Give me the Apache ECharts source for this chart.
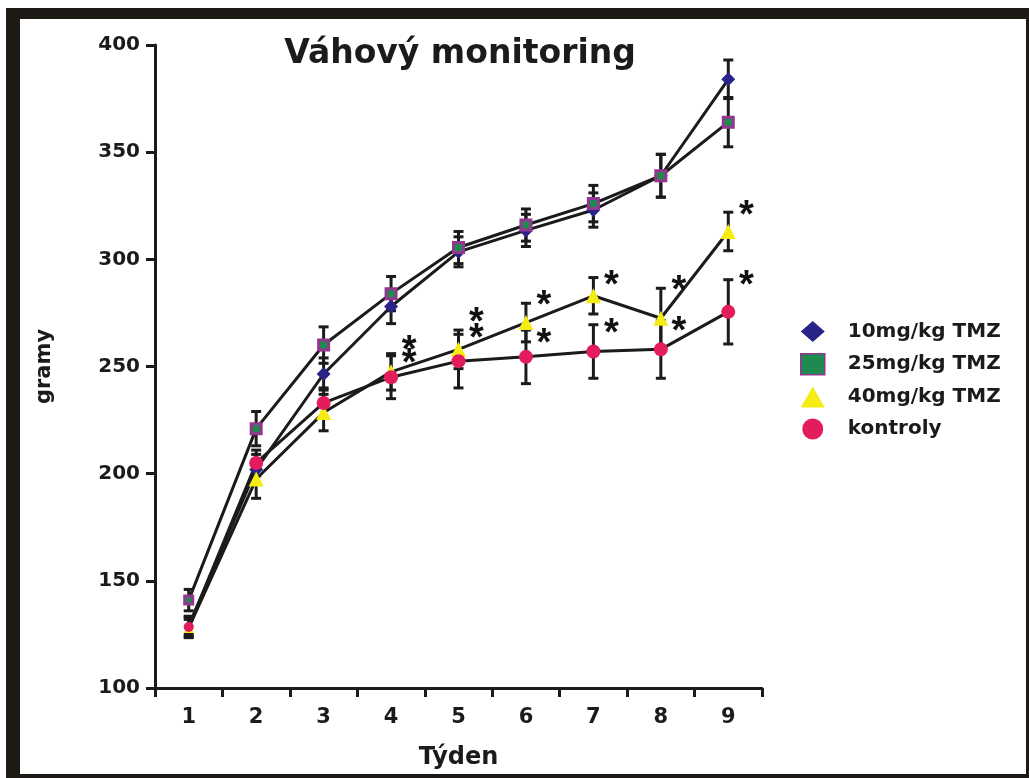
<!DOCTYPE html>
<html>
<head>
<meta charset="utf-8">
<script src="https://cdn.jsdelivr.net/npm/echarts@6/dist/echarts.min.js"></script>
<style>
  html, body { margin: 0; padding: 0; background: #ffffff; }
  #frame { position: absolute; left: 6px; top: 8px; width: 1023px; height: 770px; background: #1d1a16; }
  #inner { position: absolute; left: 20px; top: 19px; width: 1006px; height: 755px; background: #ffffff; }
  #chart { position: absolute; left: 0; top: 0; width: 1029px; height: 778px; }
</style>
</head>
<body>
<div id="frame"></div>
<div id="inner"></div>
<div id="chart"></div>
<script>
// ---- data ----
const weeks = ['1', '2', '3', '4', '5', '6', '7', '8', '9'];
const seriesNames = ['10mg/kg TMZ', '25mg/kg TMZ', '40mg/kg TMZ', 'kontroly'];

const tmz10 = [129, 202, 246.5, 278, 303.5, 313.5, 323, 339, 384];
const tmz10Err = [4, 7, 7.5, 8, 7, 7.5, 8, 10, 9];

const tmz25 = [141, 221, 260, 284, 305.5, 316, 326, 339, 364];
const tmz25Err = [5, 8, 8.5, 8, 7.5, 7.5, 8.5, 10, 11.5];

const tmz40 = [128, 197.5, 228.5, 247.5, 258, 270.5, 283, 272.5, 313];
const tmz40Err = [4, 9, 8.5, 8.5, 9, 9, 8.5, 14, 9];

const kontroly = [128.5, 205, 233, 245, 252.5, 254.5, 257, 258, 275.5];
const kontrolyErr = [5, 6, 7, 10, 12.5, 12.5, 12.5, 13.5, 15];

// significance asterisks: week index and the value they sit at
const sigWeekIdx = [3, 3, 4, 4, 5, 5, 6, 6, 7, 7, 8, 8];
const sigValue = [262, 256, 275, 267.5, 283, 265.5, 292.5, 270, 290, 271, 325, 292.5];

const yTicks = { min: 100, max: 400, interval: 50 };

// ---- styles ----
const FONT = 'DejaVu Sans';
const INK = '#1b1b1b';
const colors = {
  d10: '#2a2388',
  d25fill: '#1f8a4f',
  d25border: '#94368f',
  d40: '#f4ec12',
  ctrl: '#e31d5c'
};

function errData(vals, errs) {
  return vals.map((v, i) => [i, v - errs[i], v + errs[i]]);
}

function errSeries(vals, errs) {
  return {
    type: 'custom',
    z: 1,
    silent: true,
    data: errData(vals, errs),
    encode: { x: 0, y: [1, 2] },
    renderItem: function (params, api) {
      const lo = api.coord([api.value(0), api.value(1)]);
      const hi = api.coord([api.value(0), api.value(2)]);
      const cap = 5;
      const st = { stroke: INK, lineWidth: 3 };
      return {
        type: 'group',
        children: [
          { type: 'line', shape: { x1: lo[0], y1: lo[1], x2: hi[0], y2: hi[1] }, style: st },
          { type: 'line', shape: { x1: lo[0] - cap, y1: lo[1], x2: lo[0] + cap, y2: lo[1] }, style: st },
          { type: 'line', shape: { x1: hi[0] - cap, y1: hi[1], x2: hi[0] + cap, y2: hi[1] }, style: st }
        ]
      };
    }
  };
}

function lineSeries(name, vals, symbol, size, firstSize, itemStyle) {
  return {
    name: name,
    type: 'line',
    z: 3,
    data: vals,
    symbol: symbol,
    symbolSize: function (val, params) { return params.dataIndex === 0 ? firstSize : size; },
    showAllSymbol: true,
    lineStyle: { color: INK, width: 3 },
    itemStyle: itemStyle,
    emphasis: { disabled: true },
    animation: false
  };
}

const chart = echarts.init(document.getElementById('chart'), null, { renderer: 'canvas' });

const option = {
  backgroundColor: 'transparent',
  animation: false,
  title: {
    text: 'Váhový monitoring',
    left: 455,
    top: 33,
    textAlign: 'center',
    textStyle: { fontFamily: FONT, fontWeight: 'bold', fontSize: 33, color: INK }
  },
  grid: { left: 155, right: 267, top: 45, bottom: 90, containLabel: false },
  legend: {
    orient: 'vertical',
    left: 795,
    top: 316,
    itemWidth: 24,
    itemHeight: 21,
    itemGap: 11,
    selectedMode: false,
    textStyle: { fontFamily: FONT, fontWeight: 'bold', fontSize: 20, color: INK, padding: [0, 0, 0, 18] },
    data: [
      { name: seriesNames[0], icon: 'diamond' },
      { name: seriesNames[1], icon: 'rect', itemStyle: { borderWidth: 1.5 } },
      { name: seriesNames[2], icon: 'triangle' },
      { name: seriesNames[3], icon: 'circle' }
    ]
  },
  xAxis: {
    type: 'category',
    data: weeks,
    boundaryGap: true,
    name: 'Týden',
    nameLocation: 'middle',
    nameGap: 58,
    nameTextStyle: { fontFamily: FONT, fontWeight: 'bold', fontSize: 24, color: INK },
    axisLine: { lineStyle: { color: INK, width: 3 } },
    axisTick: { show: true, alignWithLabel: false, length: 9, lineStyle: { color: INK, width: 3 } },
    axisLabel: { fontFamily: FONT, fontWeight: 'bold', fontSize: 21, color: INK, margin: 19 },
    splitLine: { show: false }
  },
  yAxis: {
    type: 'value',
    min: yTicks.min,
    max: yTicks.max,
    interval: yTicks.interval,
    name: 'gramy',
    nameLocation: 'middle',
    nameRotate: 90,
    nameGap: 100,
    nameTextStyle: { fontFamily: FONT, fontWeight: 'bold', fontSize: 21, color: INK },
    axisLine: { show: true, lineStyle: { color: INK, width: 3 } },
    axisTick: { show: true, length: 9, lineStyle: { color: INK, width: 3 } },
    axisLabel: { fontFamily: FONT, fontWeight: 'bold', fontSize: 20, color: INK, margin: 15 },
    splitLine: { show: false }
  },
  series: [
    errSeries(tmz10, tmz10Err),
    errSeries(tmz25, tmz25Err),
    errSeries(tmz40, tmz40Err),
    errSeries(kontroly, kontrolyErr),
    lineSeries(seriesNames[0], tmz10, 'diamond', 14, 10, { color: colors.d10 }),
    lineSeries(seriesNames[1], tmz25, 'rect', 10, 8, { color: colors.d25fill, borderColor: colors.d25border, borderWidth: 3 }),
    lineSeries(seriesNames[2], tmz40, 'triangle', 15, 10, { color: colors.d40 }),
    lineSeries(seriesNames[3], kontroly, 'circle', 14, 10, { color: colors.ctrl }),
    {
      type: 'scatter',
      z: 4,
      silent: true,
      symbolSize: 1,
      itemStyle: { color: 'rgba(255,255,255,0)', opacity: 1 },
      data: sigWeekIdx.map((w, i) => [w, sigValue[i]]),
      label: {
        show: true,
        formatter: '*',
        position: 'inside',
        offset: [18, 11],
        fontFamily: 'Liberation Sans',
        fontWeight: 'bold',
        fontSize: 38,
        color: '#111111',
        opacity: 1,
        textBorderWidth: 0
      }
    }
  ]
};

chart.setOption(option);
</script>
</body>
</html>
